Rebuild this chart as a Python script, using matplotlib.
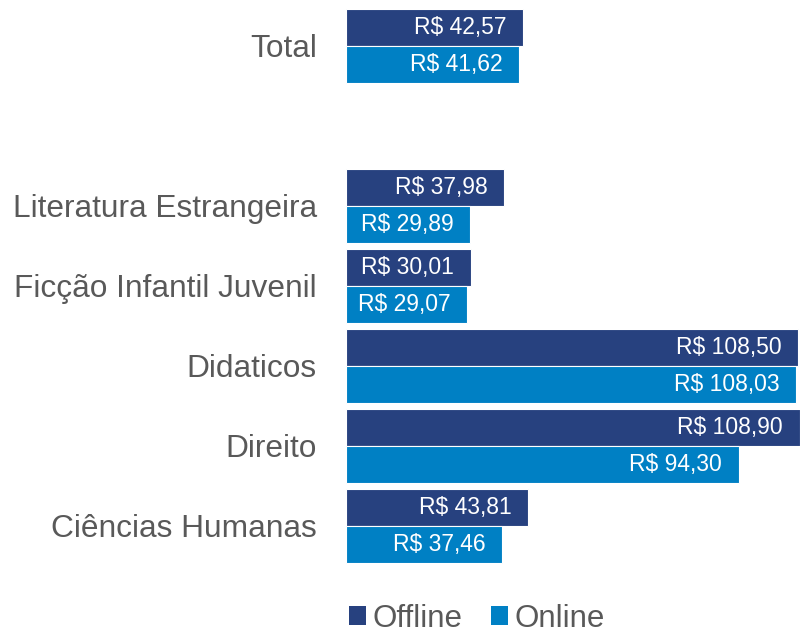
import matplotlib.pyplot as plt
import numpy as np
from matplotlib.patches import Patch

plt.rcParams['font.family'] = ['Liberation Sans', 'DejaVu Sans']

# Data (top to bottom; '' is the blank spacer row)
categories = ['Total', '', 'Literatura Estrangeira', 'Ficção Infantil Juvenil',
              'Didaticos', 'Direito', 'Ciências Humanas']
offline = [42.57, np.nan, 37.98, 30.01, 108.50, 108.90, 43.81]
online = [41.62, np.nan, 29.89, 29.07, 108.03, 94.30, 37.46]

OFFLINE_COLOR = '#27417F'
ONLINE_COLOR = '#0080C4'
TEXT_GRAY = '#595959'


def brl(v):
    return 'R$ ' + f'{v:.2f}'.replace('.', ',')


fig = plt.figure(figsize=(8, 6.34), dpi=100)
ax = fig.add_axes([0.4325, 0.1073, 0.5675, 0.8833])

y = np.arange(len(categories))
h = 0.46
for vals, off, color in [(offline, -h / 2, OFFLINE_COLOR), (online, h / 2, ONLINE_COLOR)]:
    for yi, v in zip(y, vals):
        if np.isnan(v):
            continue
        ax.barh(yi + off, v, height=h, color=color, edgecolor='white', linewidth=0.8)
        ax.annotate(brl(v), xy=(v, yi + off), xytext=(-12, 0), textcoords='offset points',
                    ha='right', va='center', color='white', fontsize=16.5)

ax.set_xlim(0, 109)
ax.set_ylim(len(categories) - 0.5, -0.5)
ax.set_yticks(y)
ax.set_yticklabels(categories, fontsize=22.8, color=TEXT_GRAY)
ax.tick_params(axis='y', length=0, pad=21)
ax.set_xticks([])
for s in ax.spines.values():
    s.set_visible(False)

handles = [Patch(facecolor=OFFLINE_COLOR, label='Offline'),
           Patch(facecolor=ONLINE_COLOR, label='Online')]
leg = fig.legend(handles=handles, loc='center', bbox_to_anchor=(0.596, 0.024), ncol=2,
                 frameon=False, fontsize=22.5, handlelength=0.55, handleheight=0.55,
                 handletextpad=0.2, columnspacing=0.9, borderpad=0)
for t in leg.get_texts():
    t.set_color(TEXT_GRAY)

fig.savefig('out.png', dpi=100)
